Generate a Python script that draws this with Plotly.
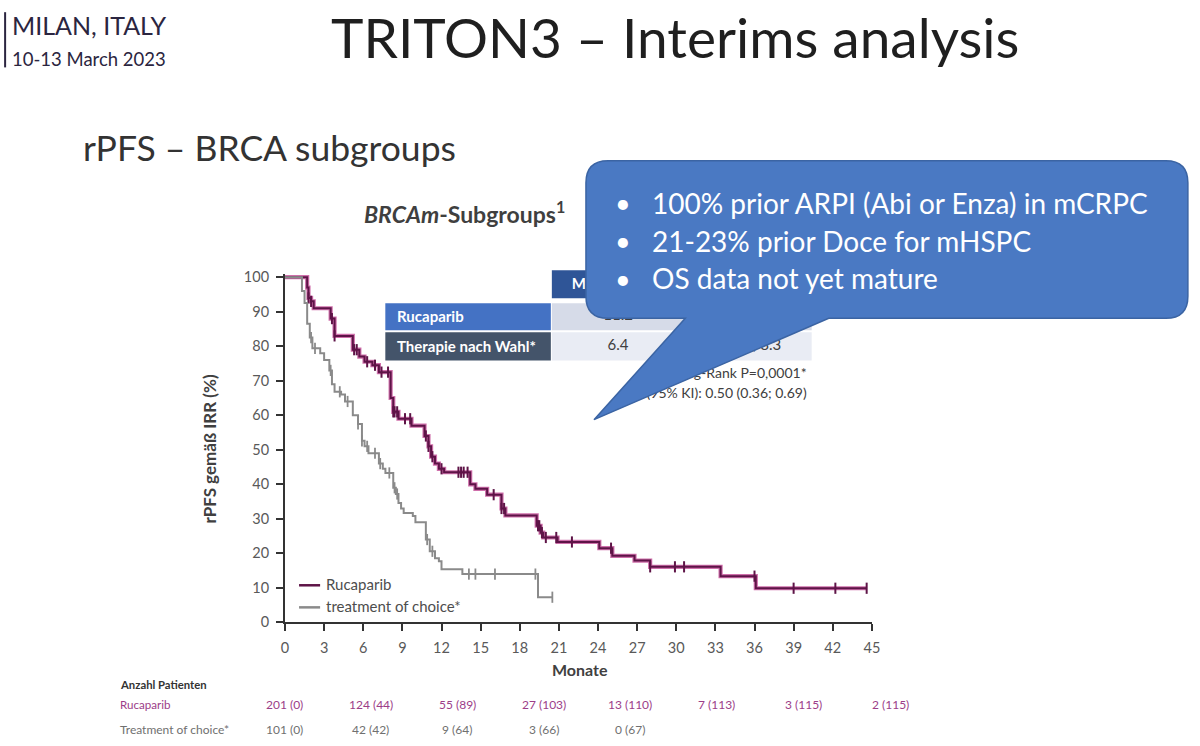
import numpy as np
import plotly.graph_objects as go

# ---------------- data ----------------
ruc_t = [0, 1.7, 1.8, 2.0, 2.2, 3.5, 3.8, 5.2, 5.7, 6.1, 6.7, 7.2, 8.1, 8.3, 8.7, 9.7, 10.7,
         11.0, 11.2, 11.5, 11.8, 12.2, 14.2, 14.6, 15.5, 16.6, 16.9, 19.3, 19.6, 19.8, 20.9,
         24.1, 25.1, 26.8, 28.0, 33.4, 36.1]
ruc_s = [100, 97, 94, 93, 91, 88, 83, 79, 77, 75.5, 74.5, 72.5, 65, 61, 59, 57, 54,
         51, 48, 46, 44.5, 43.5, 40, 38.7, 37, 33, 31, 28, 26, 24.6, 23.3,
         21.5, 19.3, 17.9, 16.1, 13.4, 9.9]
ruc_end = 44.6
ruc_cens = [1.8, 2.0, 3.6, 3.8, 5.3, 5.5, 6.3, 6.9, 7.4, 7.9, 8.3, 8.4, 8.6, 9.2, 9.6, 10.8,
            11.0, 11.3, 12.0, 13.3, 13.5, 13.7, 14.0, 16.0, 16.6, 16.8, 19.4, 19.5, 19.7,
            20.0, 20.8, 22.0, 25.0, 28.0, 29.9, 30.6, 36.0, 39.0, 42.2, 44.6]

toc_t = [0, 1.3, 1.5, 1.7, 1.9, 2.1, 2.7, 3.0, 3.4, 3.6, 3.8, 4.3, 4.6, 5.2, 5.6, 5.9, 6.1,
         6.4, 7.2, 7.5, 7.7, 8.3, 8.5, 8.7, 8.9, 9.1, 9.8, 10.0, 10.8, 11.1, 11.5, 11.8, 12.0,
         13.6, 19.4]
toc_s = [100, 96, 92.5, 86.5, 82.5, 79.4, 78, 76, 73, 69, 66.8, 66, 64, 60, 57.5, 52.6, 51,
         49, 46, 44.5, 43.3, 39, 37.2, 34.6, 33, 31.7, 30.8, 29, 24, 20.6, 18.6, 17.7, 15.4,
         14.0, 7.3]
toc_end = 20.5
toc_cens = [2.0, 2.3, 3.5, 4.2, 4.8, 5.6, 5.9, 6.3, 6.9, 7.3, 8.0, 8.4, 8.6, 10.9, 11.3,
            14.1, 14.6, 16.1, 19.2, 20.5]

x_ticks = list(range(0, 46, 3))
y_ticks = list(range(0, 101, 10))

series_names = ["Rucaparib", "treatment of choice*"]
risk_rows = ["Rucaparib", "Treatment of choice*"]
risk_ruc = ["201 (0)", "124 (44)", "55 (89)", "27 (103)", "13 (110)", "7 (113)", "3 (115)", "2 (115)"]
risk_toc = ["101 (0)", "42 (42)", "9 (64)", "3 (66)", "0 (67)"]

table_rows = ["Rucaparib", "Therapie nach Wahl*"]
table_median = ["11.2", "6.4"]
table_ci = ["9.2; 13.8", "5.4; 8.3"]
stats_lines = ["Log-Rank P=0,0001*", "HR (95% KI): 0.50 (0.36; 0.69)"]
bullets = ["100% prior ARPI (Abi or Enza) in mCRPC", "21-23% prior Doce for mHSPC",
           "OS data not yet mature"]

# ---------------- helpers ----------------
def step_xy(t, s, end):
    return list(t) + [end], list(s) + [s[-1]]

def surv_at(t, s, ct):
    idx = np.searchsorted(np.array(t), np.array(ct), side="right") - 1
    return list(np.array(s)[idx])

FONT = "Lato"
RUC_DARK = "#5e1447"
RUC_GLOW = "#c0408f"
GREY = "#8a8a8a"

W, H = 1200, 746
# the photographed page includes an 8px body margin and is scaled back to W x H;
# layout positions are given in photographed-page pixels and mapped to figure pixels
M = 8
SX, SY = (W + 2 * M) / W, (H + 2 * M) / H

def fx(px):
    return (px * SX - M) / W

def fy(py):
    return 1 - (py * SY - M) / H

fig = go.Figure()

# Rucaparib glow + core
rx, ry = step_xy(ruc_t, ruc_s, ruc_end)
fig.add_trace(go.Scatter(x=rx, y=ry, mode="lines", line=dict(shape="hv", color=RUC_GLOW, width=4.2),
                         opacity=0.75, hoverinfo="skip", showlegend=False))
fig.add_trace(go.Scatter(x=rx, y=ry, mode="lines", line=dict(shape="hv", color=RUC_DARK, width=2),
                         hoverinfo="skip", showlegend=False))
fig.add_trace(go.Scatter(x=ruc_cens, y=surv_at(ruc_t, ruc_s, ruc_cens), mode="markers",
                         marker=dict(symbol="line-ns", size=8, line=dict(color=RUC_DARK, width=2)),
                         hoverinfo="skip", showlegend=False, cliponaxis=False))

# Treatment of choice
gx, gy = step_xy(toc_t, toc_s, toc_end)
fig.add_trace(go.Scatter(x=gx, y=gy, mode="lines", line=dict(shape="hv", color=GREY, width=2),
                         hoverinfo="skip", showlegend=False))
fig.add_trace(go.Scatter(x=toc_cens, y=surv_at(toc_t, toc_s, toc_cens), mode="markers",
                         marker=dict(symbol="line-ns", size=8, line=dict(color=GREY, width=1.8)),
                         hoverinfo="skip", showlegend=False, cliponaxis=False))

# ---------------- table texts (under the callout) on pixel overlay axes ----------------
tx, ty, tt = [], [], []
tx.append(581); ty.append(287); tt.append("<b>M</b>")
for i in range(2):
    tx += [620, 758]
    ty += [318 + 30 * i, 318 + 30 * i]
    tt += [table_median[i], table_ci[i]]
fig.add_trace(go.Scatter(x=tx, y=ty, text=tt, mode="text", xaxis="x2", yaxis="y2",
                         textfont=dict(family=FONT, size=15, color=["white", "#404040", "#404040", "#404040", "#404040"]),
                         hoverinfo="skip", showlegend=False))
fig.add_trace(go.Scatter(x=[808, 808], y=[376, 396], text=stats_lines, mode="text",
                         textposition="middle left", xaxis="x2", yaxis="y2",
                         textfont=dict(family=FONT, size=14, color="#404040"),
                         hoverinfo="skip", showlegend=False))

shapes = []
# table cells
shapes.append(dict(type="rect", xref="x2", yref="y2", x0=554, x1=813, y0=272, y1=300,
                   fillcolor="#2f5597", line=dict(width=0), layer="below"))
shapes.append(dict(type="rect", xref="x2", yref="y2", x0=388, x1=553, y0=305, y1=332,
                   fillcolor="#4472c4", line=dict(width=0), layer="below"))
shapes.append(dict(type="rect", xref="x2", yref="y2", x0=388, x1=553, y0=334, y1=362,
                   fillcolor="#44546a", line=dict(width=0), layer="below"))
shapes.append(dict(type="rect", xref="x2", yref="y2", x0=554, x1=813, y0=305, y1=332,
                   fillcolor="#d6dbe8", line=dict(width=0), layer="below"))
shapes.append(dict(type="rect", xref="x2", yref="y2", x0=554, x1=813, y0=334, y1=362,
                   fillcolor="#e9ecf4", line=dict(width=0), layer="below"))

# top-left bar
shapes.append(dict(type="line", xref="x2", yref="y2", x0=9, x1=9, y0=15, y1=70,
                   line=dict(color="#2b2540", width=2)))

# legend samples
shapes.append(dict(type="line", xref="x2", yref="y2", x0=302, x1=323, y0=586, y1=586,
                   line=dict(color=RUC_DARK, width=2.5)))
shapes.append(dict(type="line", xref="x2", yref="y2", x0=302, x1=323, y0=608, y1=608,
                   line=dict(color=GREY, width=2.5)))

# callout
L, R, T, B, r = 588, 1188, 163, 320, 22
path = (f"M {L+r},{T} L {R-r},{T} Q {R},{T} {R},{T+r} L {R},{B-r} Q {R},{B} {R-r},{B} "
        f"L 830,{B} L 596,421 L 687,{B} L {L+r},{B} Q {L},{B} {L},{B-r} L {L},{T+r} Q {L},{T} {L+r},{T} Z")
shapes.append(dict(type="path", xref="x2", yref="y2", path=path, fillcolor="#4a79c3",
                   line=dict(color="#3b64a3", width=1.5), layer="above"))

ann = []
def A(x, y, text, size, color="#333333", xa="left", ya="middle", **kw):
    ann.append(dict(x=x, y=y, xref="x2", yref="y2", text=text, showarrow=False,
                    xanchor=xa, yanchor=ya, font=dict(family=FONT, size=size, color=color), **kw))

A(14, 28, "MILAN, ITALY", 25, "#2b2540")
A(14, 62, "10-13 March 2023", 18.5, "#2b2540")
A(677, 40, "TRITON3 – Interims analysis", 55, "#1f1f1f", xa="center")
A(85, 150, "rPFS – BRCA subgroups", 35.5, "#333333")
A(467, 215, "<b><i>BRCAm</i>-Subgroups<sup>1</sup></b>", 23, "#3f3f3f", xa="center")
for i, lab in enumerate(table_rows):
    A(398, 318 + 30 * i, f"<b>{lab}</b>", 15, "white")
for i, b in enumerate(bullets):
    A(615, 205 + 37.5 * i, "•", 27, "white")
    A(652, 205 + 37.5 * i, b, 28, "white")
# legend labels
A(327, 585, series_names[0], 15, "#4d4d4d")
A(327, 607, series_names[1], 15, "#4d4d4d")
# axis titles
A(582, 670, "<b>Monate</b>", 16, "#404040", xa="center")
A(213, 450, "<b>rPFS gemäß IRR (%)</b>", 17, "#404040", xa="center", textangle=-90)
# risk table
A(122, 685, "<b>Anzahl Patienten</b>", 11.3, "#333333")
A(122, 705, risk_rows[0], 11.6, "#9c3d88")
A(122, 730, risk_rows[1], 12, "#707070")
for k, v in enumerate(risk_ruc):
    A(287 + 86.3 * k, 705, v, 12, "#9c3d88", xa="center")
for k, v in enumerate(risk_toc):
    A(287 + 86.3 * k, 730, v, 12, "#707070", xa="center")

fig.update_layout(
    width=W, height=H, margin=dict(l=0, r=0, t=0, b=0),
    paper_bgcolor="white", plot_bgcolor="rgba(0,0,0,0)",
    showlegend=False, shapes=shapes, annotations=ann,
    xaxis=dict(domain=[fx(288), fx(873)], range=[0, 45], tickvals=x_ticks, ticks="outside",
               ticklen=7, tickwidth=2, tickcolor="#333333", showline=True, linecolor="#333333",
               linewidth=2, showgrid=False, zeroline=False, anchor="y",
               tickfont=dict(family=FONT, size=14.5, color="#595959"), ticklabelstandoff=4),
    yaxis=dict(domain=[fy(623), fy(275.6)], range=[0, 101], tickvals=y_ticks,
               ticks="outside", ticklen=7, tickwidth=2, tickcolor="#333333", showline=True,
               linecolor="#333333", linewidth=2, showgrid=False, zeroline=False, anchor="x",
               tickfont=dict(family=FONT, size=14.5, color="#595959"), ticklabelstandoff=4),
    xaxis2=dict(domain=[0, 1], range=[M / SX, (W + M) / SX], visible=False, anchor="y2",
                fixedrange=True),
    yaxis2=dict(domain=[0, 1], range=[(H + M) / SY, M / SY], visible=False, anchor="x2",
                fixedrange=True),
)

fig.write_html("out.html")
